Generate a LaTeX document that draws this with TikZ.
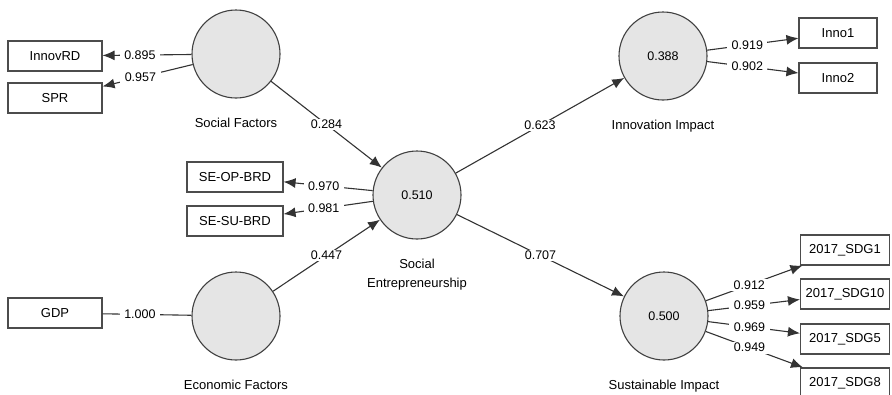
\documentclass[tikz,border=0pt]{standalone}
\usepackage{fontspec}
\setmainfont{Liberation Sans}
\usepackage{xcolor}
\usetikzlibrary{arrows.meta}
\usetikzlibrary{positioning}

\begin{document}
\begin{tikzpicture}[x=1pt,y=-1pt,line width=1.1pt,draw=black!80,node distance=17pt]
	\tikzstyle{latent}=[circle, fill=gray!20, draw=black!75, minimum size=88pt, inner sep=0pt, font=\fontsize{12.5}{14}\selectfont]
	\tikzstyle{indicator}=[rectangle, fill=white, draw=black!70, minimum height=30pt, inner sep=2pt, font=\fontsize{13}{15}\selectfont]
	\tikzstyle{caption}=[align=center, inner sep=2pt, font=\fontsize{13}{19}\selectfont]
	\tikzstyle{coef}=[fill=white, inner xsep=4.5pt, inner ysep=1.5pt, font=\fontsize{12.5}{14}\selectfont]
	\tikzstyle{arc}=[-{Latex[length=12pt,width=10pt]}]
	\clip (0,0) rectangle (892,394);

	% constructs
	\node[latent] (SF) at (236,54) {};
	\node[latent] (SE) at (417,195) {0.510};
	\node[latent] (EF) at (236,316) {};
	\node[latent] (II) at (663,56) {0.388};
	\node[latent] (SI) at (664,316) {0.500};

	\node[caption] (SFlab) [below=of SF] {Social Factors};
	\node[caption] (SElab) [below=of SE] {Social\\Entrepreneurship};
	\node[caption] (EFlab) [below=of EF] {Economic Factors};
	\node[caption] (IIlab) [below=of II] {Innovation Impact};
	\node[caption] (SIlab) [below=of SI] {Sustainable Impact};

	% indicators
	\node[indicator, minimum width=94pt] (InnovRD) at (55,56) {InnovRD};
	\node[indicator, minimum width=94pt] (SPR) at (55,98) {SPR};
	\node[indicator, minimum width=94pt] (GDP) at (55,313) {GDP};
	\node[indicator, minimum width=96pt] (SEOP) at (235,177) {SE-OP-BRD};
	\node[indicator, minimum width=96pt] (SESU) at (235,221) {SE-SU-BRD};
	\node[indicator, minimum width=78pt] (Inno1) at (838,33) {Inno1};
	\node[indicator, minimum width=78pt] (Inno2) at (838,78) {Inno2};
	\node[indicator, minimum width=89pt] (SDG1) at (845,250) {2017\_SDG1};
	\node[indicator, minimum width=89pt] (SDG10) at (845,294) {2017\_SDG10};
	\node[indicator, minimum width=89pt] (SDG5) at (845,339) {2017\_SDG5};
	\node[indicator, minimum width=89pt] (SDG8) at (845,383) {2017\_SDG8};

	% outer model
	\draw[arc] (SF) -- node[coef, pos=0.58] {0.895} (InnovRD);
	\draw[arc] (SF) -- node[coef, pos=0.58] {0.957} (SPR);
	\draw (EF) -- node[coef, pos=0.58] {1.000} (GDP);
	\draw[arc] (SE) -- node[coef, pos=0.55] {0.970} (SEOP);
	\draw[arc] (SE) -- node[coef, pos=0.55] {0.981} (SESU);
	\draw[arc] (II) -- node[coef, pos=0.44] {0.919} (Inno1);
	\draw[arc] (II) -- node[coef, pos=0.44] {0.902} (Inno2);
	\draw[arc] (SI) -- node[coef, pos=0.45] {0.912} (SDG1);
	\draw[arc] (SI) -- node[coef, pos=0.45] {0.959} (SDG10);
	\draw[arc] (SI) -- node[coef, pos=0.45] {0.969} (SDG5);
	\draw[arc] (SI) -- node[coef, pos=0.45] {0.949} (SDG8);

	% inner model
	\draw[arc] (SF) -- node[coef] {0.284} (SE);
	\draw[arc] (EF) -- node[coef] {0.447} (SE);
	\draw[arc] (SE) -- node[coef] {0.623} (II);
	\draw[arc] (SE) -- node[coef] {0.707} (SI);
\end{tikzpicture}
\end{document}
